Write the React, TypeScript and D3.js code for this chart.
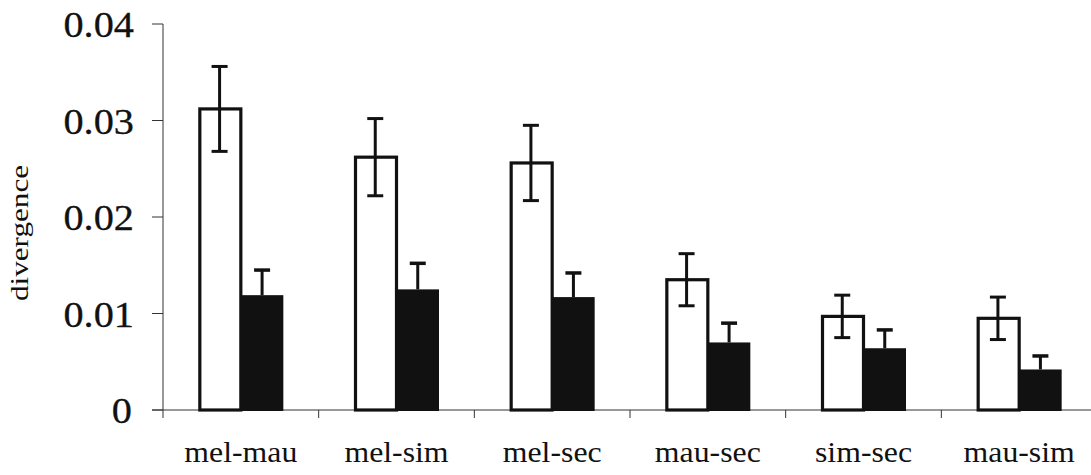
import React from "react";
import * as d3 from "d3";

const categories = ["mel-mau", "mel-sim", "mel-sec", "mau-sec", "sim-sec", "mau-sim"];
const openValues = [0.0312, 0.0262, 0.0256, 0.0135, 0.0097, 0.0095];
const openErrors = [0.0044, 0.004, 0.0039, 0.0027, 0.0022, 0.0022];
const filledValues = [0.0119, 0.0125, 0.0117, 0.007, 0.0064, 0.0042];
const filledErrors = [0.0026, 0.0027, 0.0025, 0.002, 0.0019, 0.0014];
const yTicks = [0, 0.01, 0.02, 0.03, 0.04];
const yTickLabels = ["0", "0.01", "0.02", "0.03", "0.04"];
const yTitle = "divergence";

const W = 1091;
const H = 475;

export default function App() {
  const x = d3.scaleBand<string>().domain(categories).range([163, 1097]).padding(0);
  const y = d3.scaleLinear().domain([0, 0.04]).range([410, 24]);
  const bw = x.bandwidth();
  const half = 42.5;
  const sub = d3.scaleBand<string>().domain(["open", "filled"]).range([bw / 2 - half, bw / 2 + half]).padding(0);
  const sw = sub.bandwidth();
  const cap = 8;
  const ink = "#111";
  const fontStyle = { fontFamily: "Liberation Serif" };

  return (
    <svg width={W} height={H} style={{ position: "absolute", left: 0, top: 0, background: "#fff" }}>
      <line x1={163} x2={163} y1={y(0.04)} y2={418} stroke="#333" strokeWidth={1} />
      {yTicks.map((t, i) => (
        <g key={"yt" + i}>
          <line x1={152} x2={163} y1={y(t)} y2={y(t)} stroke="#333" strokeWidth={1} />
          <text
            transform={`translate(${t === 0 ? 132 : 134},${y(t) + 5}) scale(1.12,1)`}
            style={fontStyle}
            fontSize={36}
            textAnchor="end"
            dominantBaseline="middle"
            fill={ink}
            stroke={ink}
            strokeWidth={0.3}
          >
            {yTickLabels[i]}
          </text>
        </g>
      ))}
      <text transform={`translate(28,${233}) rotate(-90) scale(1.2,1)`} style={fontStyle} fontSize={26} textAnchor="middle" fill={ink}>
        {yTitle}
      </text>
      <line x1={152} x2={W} y1={y(0)} y2={y(0)} stroke="#333" strokeWidth={1} />
      {categories.map((c, i) => (
        <line key={"xt" + i} x1={(x(c) as number) + bw} x2={(x(c) as number) + bw} y1={y(0)} y2={y(0) + 8} stroke="#333" strokeWidth={1} />
      ))}
      {categories.map((c, i) => (
        <text
          key={"xl" + i}
          transform={`translate(${(x(c) as number) + bw / 2},462) scale(1.06,1)`}
          style={fontStyle}
          fontSize={30}
          textAnchor="middle"
          fill={ink}
        >
          {c}
        </text>
      ))}
      {categories.map((c, i) => {
        const x0 = x(c) as number;
        const xo = x0 + (sub("open") as number);
        const xf = x0 + (sub("filled") as number);
        const co = xo + sw / 2;
        const cf = xf + sw / 2;
        return (
          <g key={"b" + i}>
            <rect x={xo + 1.5} y={y(openValues[i])} width={sw - 1.5} height={y(0) - y(openValues[i])} fill="#fff" stroke={ink} strokeWidth={3.2} />
            <line x1={co} x2={co} y1={y(openValues[i] + openErrors[i])} y2={y(openValues[i] - openErrors[i])} stroke={ink} strokeWidth={3} />
            <line x1={co - cap} x2={co + cap} y1={y(openValues[i] + openErrors[i])} y2={y(openValues[i] + openErrors[i])} stroke={ink} strokeWidth={3} />
            <line x1={co - cap} x2={co + cap} y1={y(openValues[i] - openErrors[i])} y2={y(openValues[i] - openErrors[i])} stroke={ink} strokeWidth={3} />
            <rect x={xf} y={y(filledValues[i])} width={sw} height={y(0) - y(filledValues[i]) + 1} fill={ink} />
            <line x1={cf} x2={cf} y1={y(filledValues[i] + filledErrors[i])} y2={y(filledValues[i])} stroke={ink} strokeWidth={3} />
            <line x1={cf - cap} x2={cf + cap} y1={y(filledValues[i] + filledErrors[i])} y2={y(filledValues[i] + filledErrors[i])} stroke={ink} strokeWidth={3.5} />
          </g>
        );
      })}
    </svg>
  );
}
